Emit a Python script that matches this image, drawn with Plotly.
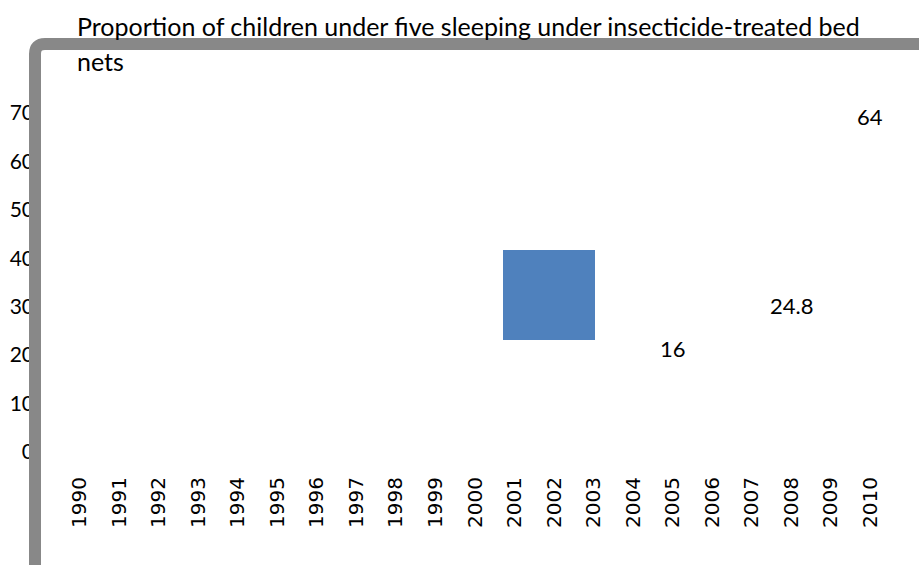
import plotly.graph_objects as go

# ---- data ----
years = [str(y) for y in range(1990, 2011)]
label_years = ["2005", "2008", "2010"]
label_values = [16, 24.8, 64]
y_ticks = [0, 10, 20, 30, 40, 50, 60, 70]
title_line1 = "Proportion of children under five sleeping under insecticide-treated bed"
title_line2 = "nets"

W, H = 919, 565
L, R, T, B = 60, 29, 113, 113
pw = W - L - R
ph = H - T - B


def px_x(sx):
    return (sx - L) / pw


def px_y(sy):
    return (H - B - sy) / ph


fig = go.Figure()

# invisible trace to establish the categorical axis
fig.add_trace(go.Scatter(x=years, y=[0] * len(years), mode="markers",
                         marker=dict(opacity=0), showlegend=False,
                         hoverinfo="skip"))

annotations = []
for yr, v in zip(label_years, label_values):
    annotations.append(dict(x=years.index(yr), y=v, xref="x", yref="y",
                            text=str(v), showarrow=False, yshift=26,
                            font=dict(family="Lato", size=22, color="black")))

annotations.append(dict(x=px_x(75), y=px_y(26), xref="paper", yref="paper",
                        text=title_line1, showarrow=False, xanchor="left",
                        yanchor="middle",
                        font=dict(family="Lato", size=25, color="black")))
annotations.append(dict(x=px_x(75), y=px_y(61), xref="paper", yref="paper",
                        text=title_line2, showarrow=False, xanchor="left",
                        yanchor="middle",
                        font=dict(family="Lato", size=25, color="black")))

# border (left + top) with rounded corner
xl, yt = px_x(35), px_y(44)
xb, xr = px_y(600), px_x(950)
rx, ry = 10 / pw, 10 / ph
border_path = (f"M {xl},{xb} L {xl},{yt - ry} Q {xl},{yt} {xl + rx},{yt} "
               f"L {xr},{yt}")

shapes = [
    dict(type="rect", xref="paper", yref="paper",
         x0=px_x(503), x1=px_x(595), y0=px_y(340), y1=px_y(250),
         fillcolor="#4F81BD", line=dict(width=0), layer="above"),
    dict(type="path", xref="paper", yref="paper", path=border_path,
         line=dict(color="#888888", width=12), layer="above"),
]

fig.update_layout(
    width=W, height=H,
    margin=dict(l=L, r=R, t=T, b=B, autoexpand=False),
    paper_bgcolor="white", plot_bgcolor="white",
    showlegend=False,
    annotations=annotations,
    shapes=shapes,
    xaxis=dict(type="category", categoryorder="array", categoryarray=years,
               range=[-0.5, len(years) - 0.5], showgrid=False, zeroline=False,
               showline=False, ticks="", tickangle=-90,
               ticklabelstandoff=20,
               tickfont=dict(family="DejaVu Sans", size=20, color="black")),
    yaxis=dict(range=[0, 70], tickvals=y_ticks, showgrid=False, zeroline=False,
               showline=False, ticks="", ticklabelstandoff=25,
               tickfont=dict(family="Lato", size=21, color="black")),
)

fig.write_html(
    "out.html",
    config={"displayModeBar": False},
    post_script="document.body.style.margin='0';"
                "document.body.style.overflow='hidden';",
)
